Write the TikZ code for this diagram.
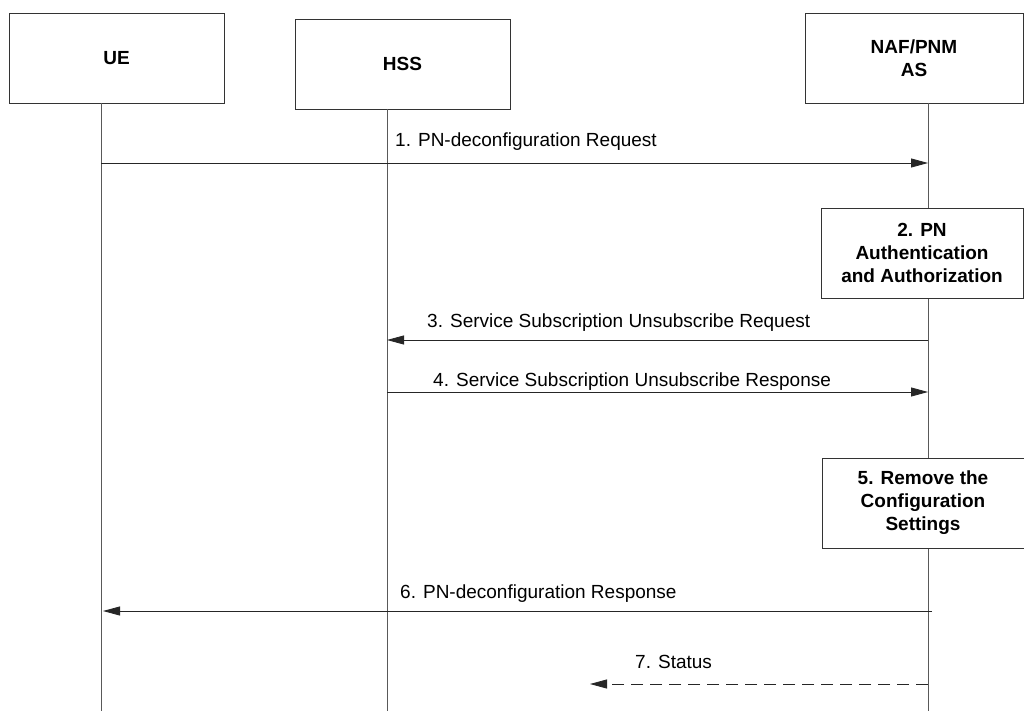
\documentclass[tikz,border=0pt]{standalone}
\usepackage{fontspec}
\setmainfont{Liberation Sans}
\usetikzlibrary{arrows.meta}
\begin{document}
\begin{tikzpicture}[x=1pt,y=-1pt,
  head/.style={draw=black!80,line width=0.8pt,fill=white,minimum width=215pt,minimum height=90pt,font=\fontsize{19}{23}\selectfont\bfseries,align=center,inner sep=0pt},
  procbox/.style={draw=black!80,line width=0.8pt,fill=white,minimum width=202pt,minimum height=90pt,font=\fontsize{19}{23}\selectfont\bfseries,align=center,inner sep=0pt},
  life/.style={draw=black!65,line width=0.8pt},
  msg/.style={draw=black!85,line width=0.8pt,-{Triangle[length=17pt,width=9pt]}},
  dmsg/.style={msg,dash pattern=on 12pt off 7pt},
  lbl/.style={font=\fontsize{19}{22}\selectfont,anchor=base west,inner sep=0pt}]
\useasboundingbox (0,0) rectangle (1024,711);
\fill[white] (0,0) rectangle (1024,711);
% lifelines
\coordinate (ueb) at (101,711);
\coordinate (hssb) at (387,711);
\coordinate (nafb) at (928,711);
\node[head] (ue) at (116.5,58) {UE};
\node[head] (hss) at (402.5,64) {HSS};
\node[head,minimum width=218pt] (naf) at (914,58) {NAF/PNM\\AS};
\draw[life] (101,103) -- (ueb);
\draw[life] (387,109) -- (hssb);
\draw[life] (928,103) -- (nafb);
% message coordinates
\coordinate (m1s) at (101,163);  \coordinate (m1e) at (928,163);
\coordinate (m3s) at (928,340);  \coordinate (m3e) at (387,340);
\coordinate (m4s) at (387,392);  \coordinate (m4e) at (928,392);
\coordinate (m6s) at (932,611);  \coordinate (m6e) at (103,611);
\coordinate (m7s) at (928,684);  \coordinate (m7e) at (590,684);
% process boxes
\node[procbox] (p2) at (922,253) {2. PN\\Authentication\\and Authorization};
\node[procbox] (p5) at (923,503) {5. Remove the\\Configuration\\Settings};
% messages
\draw[msg] (m1s) -- (m1e);
\node[lbl] (l1) at (395,147) {1. PN-deconfiguration Request};
\draw[msg] (m3s) -- (m3e);
\node[lbl] (l3) at (427,327) {3. Service Subscription Unsubscribe Request};
\draw[msg] (m4s) -- (m4e);
\node[lbl] (l4) at (433,386) {4. Service Subscription Unsubscribe Response};
\draw[msg] (m6s) -- (m6e);
\node[lbl] (l6) at (400,598) {6. PN-deconfiguration Response};
\draw[dmsg] (m7s) -- (m7e);
\node[lbl] (l7) at (635,668) {7. Status};
\end{tikzpicture}
\end{document}
